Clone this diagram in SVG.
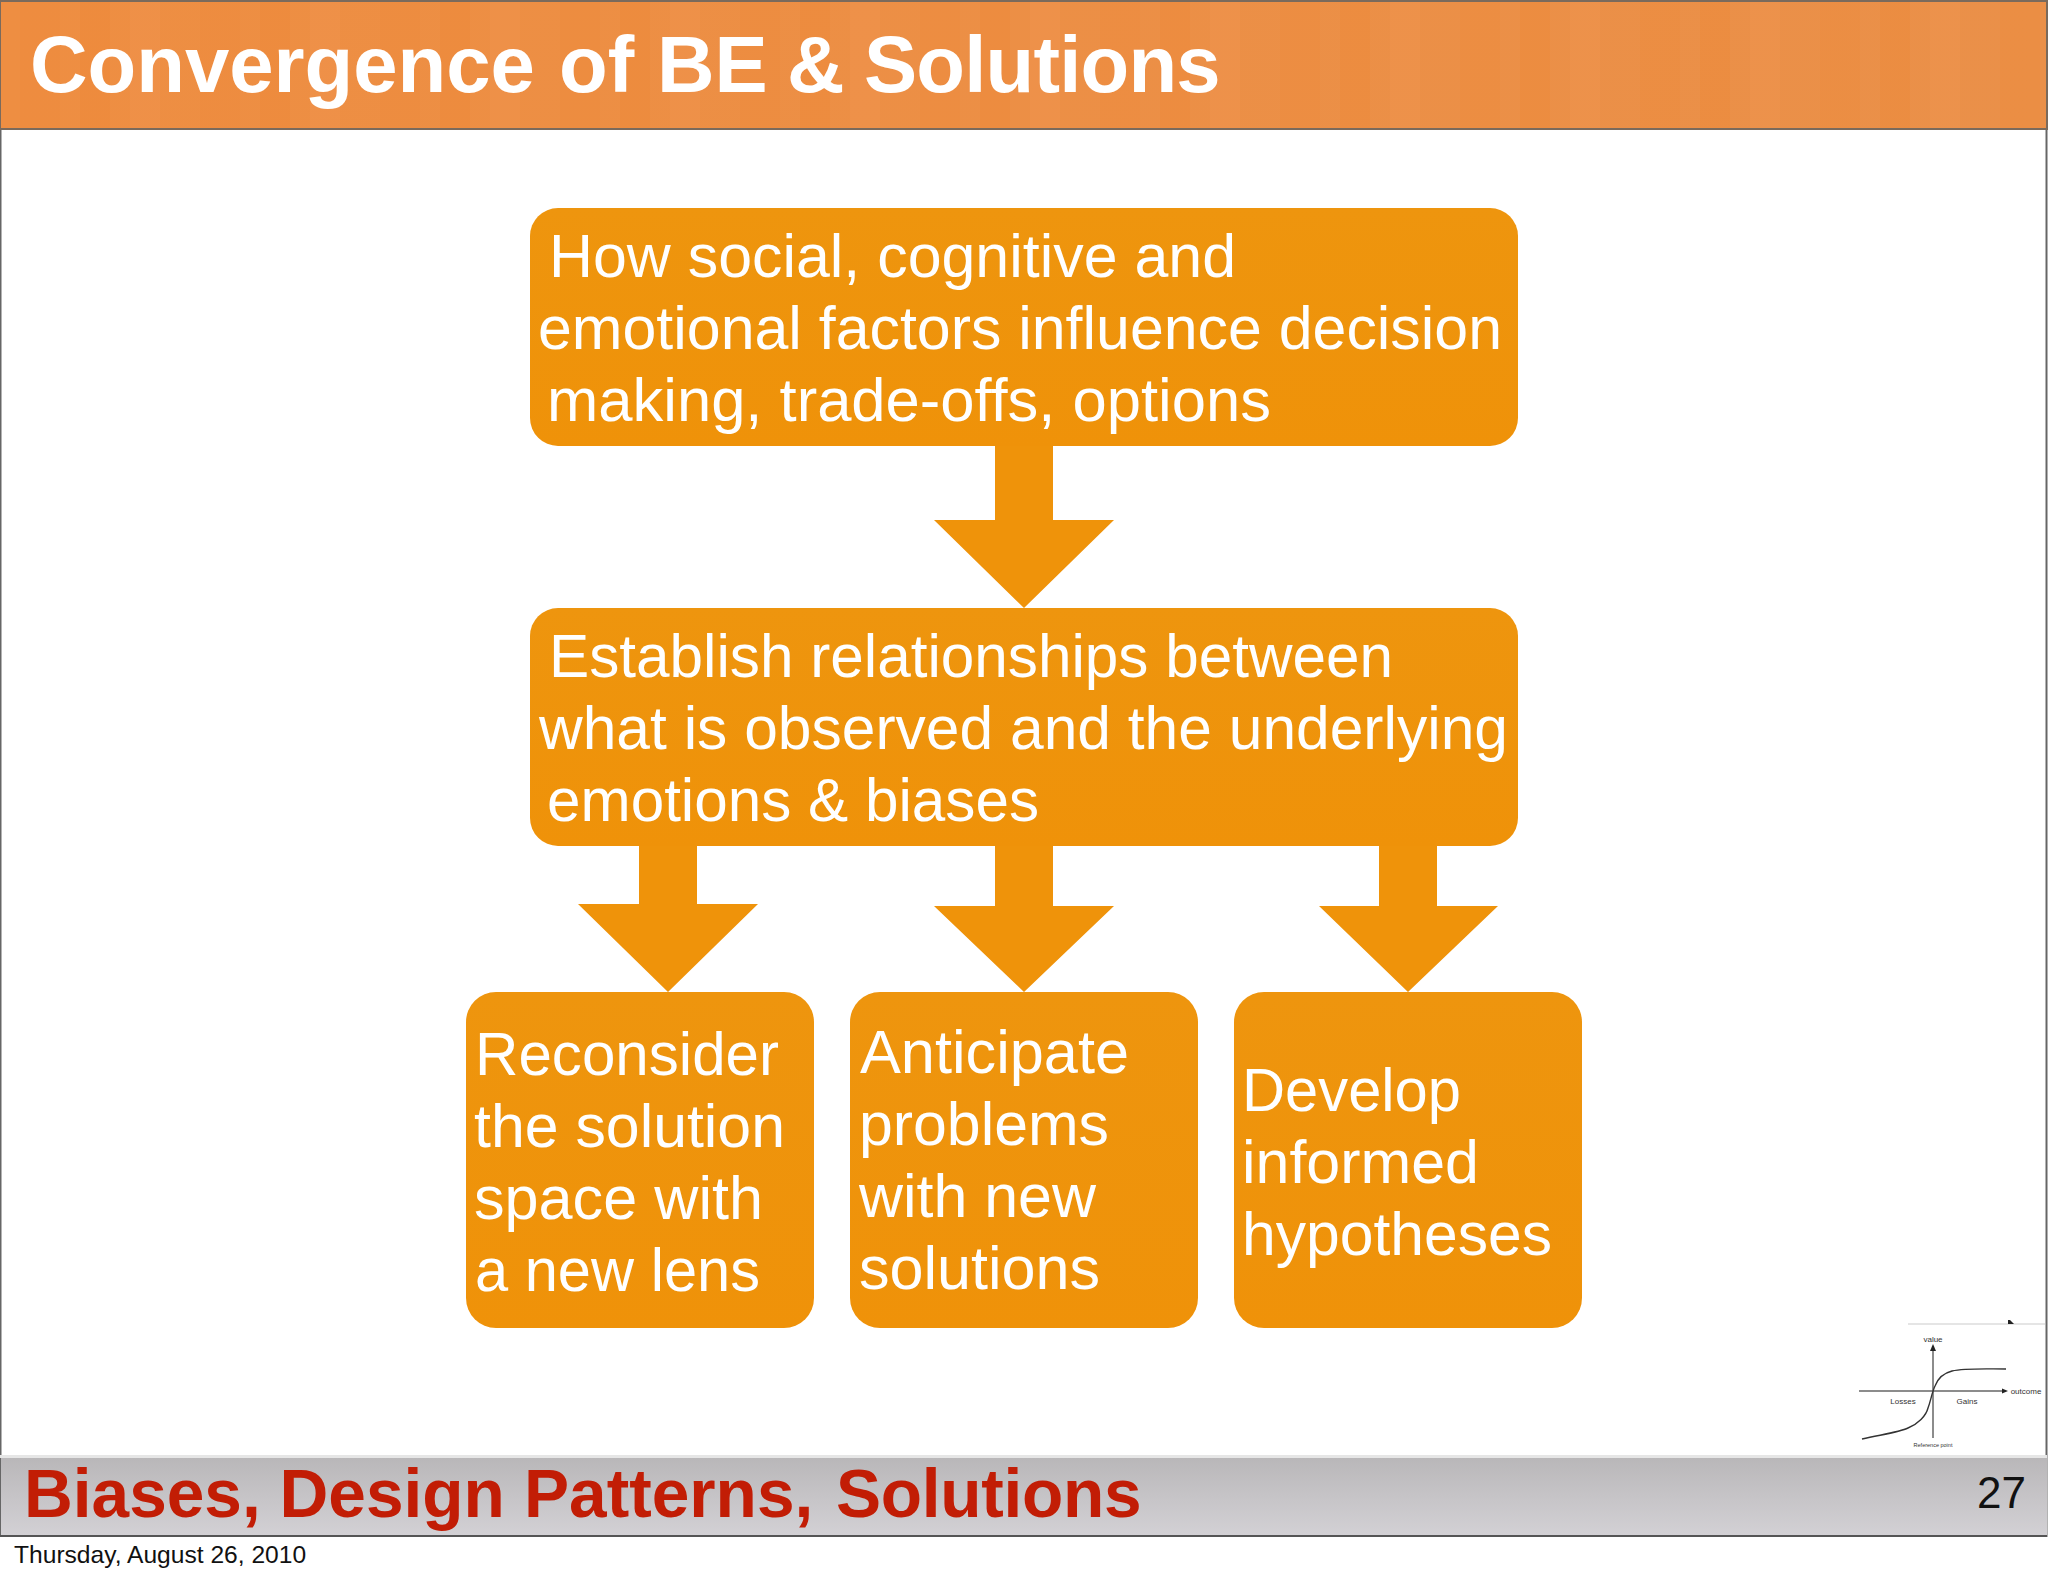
<svg xmlns="http://www.w3.org/2000/svg" width="2048" height="1576" viewBox="0 0 2048 1576">
<style>
text{font-family:"Liberation Sans",Arial,sans-serif}
.box{fill:url(#boxFill)}
.arrow{fill:#ef930a}
.t{font-size:60.500px;fill:#fff}
.small{font-size:8px;fill:#333;text-anchor:middle}
.axis{stroke:#666;stroke-width:1.500;fill:none}
</style>
<defs>
<linearGradient id="boxFill" x1="0" y1="0" x2="0" y2="1"><stop offset="0" stop-color="#ee950e"/><stop offset="1" stop-color="#ef9209"/></linearGradient>
<linearGradient id="foot" x1="0" y1="0" x2="0" y2="1"><stop offset="0" stop-color="#b9b7b9"/><stop offset="1" stop-color="#d3d1d5"/></linearGradient>
<linearGradient id="headShade" x1="0" y1="0" x2="1" y2="0"><stop offset="0" stop-color="#ee8e42"/><stop offset="1" stop-color="#ea9049"/></linearGradient>
<pattern id="hp" width="180" height="129" patternUnits="userSpaceOnUse">
<rect x="20" width="40" height="129" fill="#ec8838" opacity=".35"/>
<rect x="80" width="30" height="129" fill="#ec8634" opacity=".35"/>
<rect x="130" width="30" height="129" fill="#f09450" opacity=".35"/>
</pattern>
</defs>
<rect width="2048" height="1576" fill="#fff"/>
<g id="slide-frame">
<rect x="0.500" y="100" width="2046" height="1436" fill="none" stroke="#666" stroke-width="2"/>
</g>
<g id="header">
<rect x="1" y="1" width="2046" height="128" fill="url(#headShade)"/>
<rect x="1" y="1" width="2046" height="128" fill="url(#hp)"/>
<path d="M0 1H2047V129H0Z" fill="none" stroke="#7a6a5c" stroke-width="2"/>
<text x="30" y="92" font-size="79.700" font-weight="700" fill="#fff">Convergence <tspan x="559">of</tspan> <tspan x="657">BE</tspan> <tspan x="787">&amp;</tspan> <tspan x="864" letter-spacing="-0.800">Solutions</tspan></text>
</g>
<g id="connectors">
<polygon class="arrow" points="995,440 1053,440 1053,520 1114,520 1024,608 934,520 995,520"/>
<polygon class="arrow" points="639,840 697,840 697,904 758,904 668,992 578,904 639,904"/>
<polygon class="arrow" points="995,840 1053,840 1053,906 1114,906 1024,992 934,906 995,906"/>
<polygon class="arrow" points="1379,840 1437,840 1437,906 1498,906 1408,992 1319,906 1379,906"/>
</g>
<g id="node-factors">
<rect class="box" x="530" y="208" width="988" height="238" rx="28"/>
<text class="t" x="549" y="277" textLength="687" lengthAdjust="spacingAndGlyphs">How social, cognitive and</text>
<text class="t" x="538" y="349" textLength="964" lengthAdjust="spacingAndGlyphs">emotional factors influence decision</text>
<text class="t" x="547" y="421" textLength="724" lengthAdjust="spacingAndGlyphs">making, trade-offs, options</text>
</g>
<g id="node-relationships">
<rect class="box" x="530" y="608" width="988" height="238" rx="28"/>
<text class="t" x="549" y="677" textLength="844" lengthAdjust="spacingAndGlyphs">Establish relationships between</text>
<text class="t" x="539" y="749" textLength="969" lengthAdjust="spacingAndGlyphs">what is observed and the underlying</text>
<text class="t" x="547" y="821" textLength="492" lengthAdjust="spacingAndGlyphs">emotions &amp; biases</text>
</g>
<g id="node-reconsider">
<rect class="box" x="466" y="992" width="348" height="336" rx="30"/>
<text class="t" x="475" y="1075" textLength="304" lengthAdjust="spacingAndGlyphs">Reconsider</text>
<text class="t" x="474" y="1147" textLength="311" lengthAdjust="spacingAndGlyphs">the solution</text>
<text class="t" x="474" y="1219" textLength="289" lengthAdjust="spacingAndGlyphs">space with</text>
<text class="t" x="475" y="1291" textLength="285" lengthAdjust="spacingAndGlyphs">a new lens</text>
</g>
<g id="node-anticipate">
<rect class="box" x="850" y="992" width="348" height="336" rx="30"/>
<text class="t" x="860" y="1073" textLength="269" lengthAdjust="spacingAndGlyphs">Anticipate</text>
<text class="t" x="859" y="1145" textLength="250" lengthAdjust="spacingAndGlyphs">problems</text>
<text class="t" x="859" y="1217" textLength="237" lengthAdjust="spacingAndGlyphs">with new</text>
<text class="t" x="859" y="1289" textLength="241" lengthAdjust="spacingAndGlyphs">solutions</text>
</g>
<g id="node-develop">
<rect class="box" x="1234" y="992" width="348" height="336" rx="30"/>
<text class="t" x="1242" y="1111" textLength="219" lengthAdjust="spacingAndGlyphs">Develop</text>
<text class="t" x="1242" y="1183" textLength="237" lengthAdjust="spacingAndGlyphs">informed</text>
<text class="t" x="1242" y="1255" textLength="310" lengthAdjust="spacingAndGlyphs">hypotheses</text>
</g>
<g id="thumbnail">
<line x1="1908" y1="1324" x2="2045" y2="1324" stroke="#ddd" stroke-width="1.500"/>
<polygon points="2008,1320 2010,1320 2014,1324 2008,1324" fill="#222"/>
<line class="axis" x1="1933" y1="1350" x2="1933" y2="1438"/>
<polygon points="1933,1344 1936,1351 1930,1351" fill="#222"/>
<line class="axis" x1="1859" y1="1391" x2="2003" y2="1391"/>
<polygon points="2008,1391 2002,1388.500 2002,1393.500" fill="#222"/>
<path d="M1862 1439C1885 1434 1900 1432 1908 1428C1918 1424 1926 1416 1928 1408C1931 1400 1932 1392 1935 1386C1938 1378 1944 1373 1952 1371C1965 1368 1985 1369 2006 1369" fill="none" stroke="#333" stroke-width="1.400"/>
<text class="small" x="1933" y="1342">value</text>
<text class="small" x="2026" y="1394">outcome</text>
<text class="small" x="1903" y="1404">Losses</text>
<text class="small" x="1967" y="1404">Gains</text>
<text class="small" style="font-size:5.500px" x="1933" y="1447">Reference point</text>
</g>
<g id="footer">
<rect x="1" y="1458" width="2046" height="78" fill="url(#foot)"/>
<rect x="0" y="1455" width="2047" height="3" fill="#e6e6e6"/>
<line x1="0" y1="1536" x2="2047" y2="1536" stroke="#555" stroke-width="2"/>
<text x="24" y="1517" font-size="67.600" font-weight="700" fill="#c21d05">Biases, Design <tspan x="524">Patterns,</tspan> <tspan x="836" letter-spacing="-0.300">Solutions</tspan></text>
<text x="1977" y="1508" font-size="44" fill="#111">27</text>
<text x="14" y="1563" font-size="24.600" fill="#111">Thursday, August 26, 2010</text>
</g>
</svg>
